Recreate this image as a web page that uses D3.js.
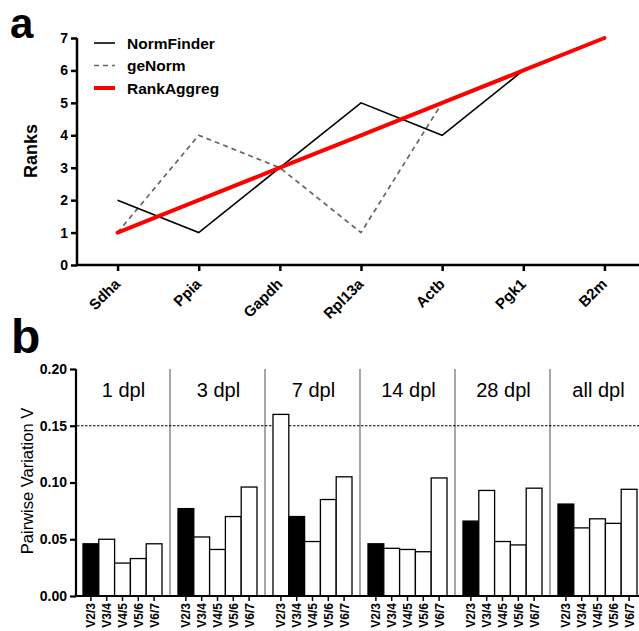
<!DOCTYPE html>
<html lang="en">
<head>
  <meta charset="UTF-8">
  <title>Ranks and pairwise variation</title>
  <style>
    body { margin: 0; background: #fff; }
    svg { font-family: "Liberation Sans", Arial, sans-serif; }
    .axis path, .axis line { stroke: #000; }
  </style>
  <script src="https://d3js.org/d3.v7.min.js"></script>
</head>
<body>
<div id="chart"></div>
<script>
  // Panel a: gene rankings
  var genes = ["Sdha", "Ppia", "Gapdh", "Rpl13a", "Actb", "Pgk1", "B2m"];
  var normFinder = [2, 1, 3, 5, 4, 6, 7];
  var geNorm = [1, 4, 3, 1, 5, 6, 7];
  var rankAggreg = [1, 2, 3, 4, 5, 6, 7];
  var rankTicks = [0, 1, 2, 3, 4, 5, 6, 7];

  // Panel b: pairwise variation per time point
  var groups = ["1 dpl", "3 dpl", "7 dpl", "14 dpl", "28 dpl", "all dpl"];
  var pairs = ["V2/3", "V3/4", "V4/5", "V5/6", "V6/7"];
  var v1dpl = [0.046, 0.050, 0.029, 0.033, 0.046];
  var v3dpl = [0.077, 0.052, 0.041, 0.070, 0.096];
  var v7dpl = [0.160, 0.070, 0.048, 0.085, 0.105];
  var v14dpl = [0.046, 0.042, 0.041, 0.039, 0.104];
  var v28dpl = [0.066, 0.093, 0.048, 0.045, 0.095];
  var vAll = [0.081, 0.060, 0.068, 0.064, 0.094];
  var optimal = [0, 0, 1, 0, 0, 0]; // index of the filled bar in each group
  var cutoff = 0.15;
  var vTicks = [0, 0.05, 0.10, 0.15, 0.20];

  var width = 639, height = 631;
  var svg = d3.select("#chart").append("svg")
    .attr("width", width)
    .attr("height", height);

  // ---------- panel a ----------
  svg.append("text").attr("x", 10).attr("y", 38)
    .attr("font-size", 42).attr("font-weight", "bold").text("a");

  var xA = d3.scalePoint().domain(genes).range([77, 645]).padding(0.5);
  var yA = d3.scaleLinear().domain([0, 7]).range([265, 38]);

  var gA = svg.append("g");

  var lineA = d3.line()
    .x((d, i) => xA(genes[i]))
    .y(d => yA(d));

  gA.append("path").datum(geNorm)
    .attr("d", lineA).attr("fill", "none")
    .attr("stroke", "#666").attr("stroke-width", 1.7)
    .attr("stroke-dasharray", "5,4");
  gA.append("path").datum(normFinder)
    .attr("d", lineA).attr("fill", "none")
    .attr("stroke", "#000").attr("stroke-width", 1.6);
  gA.append("path").datum(rankAggreg)
    .attr("d", lineA).attr("fill", "none")
    .attr("stroke", "#ff0000").attr("stroke-width", 4)
    .attr("stroke-linecap", "round");

  var yAxisA = gA.append("g").attr("class", "axis")
    .attr("transform", "translate(77,0)")
    .call(d3.axisLeft(yA).tickValues(rankTicks).tickSize(6).tickPadding(3).tickFormat(d3.format("d")));
  yAxisA.select(".domain").attr("stroke-width", 2.5).attr("d", "M0,38V265");
  yAxisA.selectAll("line").attr("stroke-width", 2.5);
  yAxisA.selectAll("text").attr("font-size", 14).attr("font-weight", "bold")
    .attr("font-family", "Liberation Sans, Arial, sans-serif");

  var xAxisA = gA.append("g").attr("class", "axis")
    .attr("transform", "translate(0,265)")
    .call(d3.axisBottom(xA).tickSize(6));
  xAxisA.select(".domain").attr("stroke-width", 2.5).attr("d", "M76,0H639");
  xAxisA.selectAll("line").attr("stroke-width", 2.5);
  xAxisA.selectAll("text")
    .attr("font-size", 15).attr("font-weight", "bold")
    .attr("font-family", "Liberation Sans, Arial, sans-serif")
    .attr("text-anchor", "end")
    .attr("dy", null).attr("y", 0)
    .attr("transform", "translate(3,20) rotate(-45)");

  gA.append("text")
    .attr("transform", "translate(37,151) rotate(-90)")
    .attr("text-anchor", "middle")
    .attr("font-size", 18).attr("font-weight", "bold").text("Ranks");

  // legend
  var legend = [
    { name: "NormFinder", color: "#000", w: 1.6, dash: null },
    { name: "geNorm", color: "#666", w: 1.7, dash: "5,4" },
    { name: "RankAggreg", color: "#ff0000", w: 4, dash: null }
  ];
  var lg = gA.selectAll(".leg").data(legend).enter().append("g")
    .attr("transform", (d, i) => "translate(94," + (43 + i * 22.5) + ")");
  lg.append("line").attr("x1", 0).attr("x2", 21)
    .attr("stroke", d => d.color).attr("stroke-width", d => d.w)
    .attr("stroke-dasharray", d => d.dash);
  lg.append("text").attr("x", 33).attr("y", 5.5)
    .attr("font-size", 15.5).attr("font-weight", "bold").text(d => d.name);

  // ---------- panel b ----------
  svg.append("text").attr("x", 11).attr("y", 353)
    .attr("font-size", 48).attr("font-weight", "bold").text("b");

  var series = [v1dpl, v3dpl, v7dpl, v14dpl, v28dpl, vAll];
  var xB = d3.scaleBand().domain(groups).range([75, 645]);
  var xInner = d3.scaleBand().domain(pairs).range([8, 87]);
  var yB = d3.scaleLinear().domain([0, 0.20]).range([596, 369]);

  var gB = svg.append("g");

  // group separators
  gB.selectAll(".sep").data(groups.slice(1)).enter().append("line")
    .attr("x1", d => xB(d)).attr("x2", d => xB(d))
    .attr("y1", yB(0.20)).attr("y2", yB(0))
    .attr("stroke", "#777").attr("stroke-width", 1.3);

  // group labels
  gB.selectAll(".glab").data(groups).enter().append("text")
    .attr("x", d => xB(d) + xB.bandwidth() / 2 + 1)
    .attr("y", 397)
    .attr("text-anchor", "middle")
    .attr("font-size", 20).text(d => d);

  // cutoff line
  gB.append("line")
    .attr("x1", 77).attr("x2", 639)
    .attr("y1", yB(cutoff)).attr("y2", yB(cutoff))
    .attr("stroke", "#000").attr("stroke-width", 1.2)
    .attr("stroke-dasharray", "2.5,1.5");

  var bars = [];
  groups.forEach((g, gi) => {
    series[gi].forEach((v, pi) => {
      bars.push({ group: g, pair: pairs[pi], value: v, filled: optimal[gi] === pi });
    });
  });

  gB.selectAll(".bar").data(bars).enter().append("rect")
    .attr("x", d => xB(d.group) + xInner(d.pair))
    .attr("y", d => yB(d.value))
    .attr("width", xInner.bandwidth())
    .attr("height", d => yB(0) - yB(d.value))
    .attr("fill", d => d.filled ? "#000" : "#fff")
    .attr("stroke", "#000").attr("stroke-width", 1.3);

  var yAxisB = gB.append("g").attr("class", "axis")
    .attr("transform", "translate(76,0)")
    .call(d3.axisLeft(yB).tickValues(vTicks).tickSize(6).tickPadding(3).tickFormat(d3.format(".2f")));
  yAxisB.select(".domain").attr("stroke-width", 2.2).attr("d", "M0,369V596");
  yAxisB.selectAll("line").attr("stroke-width", 2.2);
  yAxisB.selectAll("text").attr("font-size", 14).attr("font-weight", "bold")
    .attr("font-family", "Liberation Sans, Arial, sans-serif");

  // x axis with one tick per bar
  gB.append("line")
    .attr("x1", 75).attr("x2", 639).attr("y1", 596).attr("y2", 596)
    .attr("stroke", "#000").attr("stroke-width", 2.2);
  var tk = gB.selectAll(".btick").data(bars).enter().append("g")
    .attr("transform", d => "translate(" + (xB(d.group) + xInner(d.pair) + xInner.bandwidth() / 2) + ",596)");
  tk.append("line").attr("y1", 0).attr("y2", 5)
    .attr("stroke", "#000").attr("stroke-width", 1.5);
  tk.append("text")
    .attr("transform", "translate(4.5,7) rotate(-90)")
    .attr("text-anchor", "end")
    .attr("font-size", 12).attr("font-weight", "bold")
    .text(d => d.pair);

  gB.append("text")
    .attr("transform", "translate(33,481) rotate(-90)")
    .attr("text-anchor", "middle")
    .attr("font-size", 16.5).text("Pairwise Variation V");
</script>
</body>
</html>
